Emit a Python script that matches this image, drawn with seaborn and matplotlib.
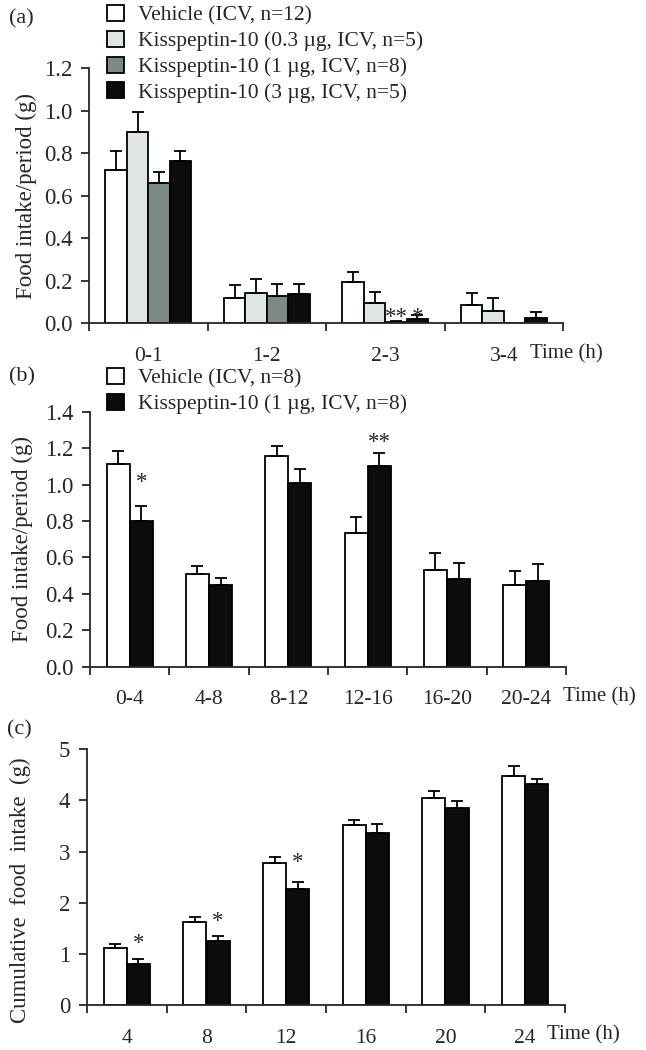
import numpy as np
import pandas as pd
import seaborn as sns
import matplotlib.pyplot as plt
from matplotlib.patches import Patch

sns.set_style("ticks")
plt.rcParams["font.family"] = ["Liberation Serif", "DejaVu Serif"]
plt.rcParams["font.size"] = 15

W, H = 646, 1050

# ---- panel (a): hourly intake, 4 doses ----
times_a = ["0-1", "1-2", "2-3", "3-4"]
groups_a = ["Vehicle (ICV, n=12)", "Kisspeptin-10 (0.3 µg, ICV, n=5)",
            "Kisspeptin-10 (1 µg, ICV, n=8)", "Kisspeptin-10 (3 µg, ICV, n=5)"]
colors_a = ["#ffffff", "#dfe5e3", "#7d8987", "#0b0d0c"]
veh_a = [0.721, 0.119, 0.192, 0.085]
veh_a_err = [0.091, 0.060, 0.050, 0.059]
k03_a = [0.898, 0.143, 0.096, 0.056]
k03_a_err = [0.095, 0.064, 0.049, 0.062]
k1_a = [0.661, 0.130, 0.006, 0.0]
k1_a_err = [0.052, 0.054, 0.006, 0.0]
k3_a = [0.763, 0.137, 0.022, 0.026]
k3_a_err = [0.046, 0.050, 0.018, 0.026]
stars_a = [("2-3", 2, "**", 0.058), ("2-3", 3, "*", 0.058)]

# ---- panel (b): 4-h intake ----
times_b = ["0-4", "4-8", "8-12", "12-16", "16-20", "20-24"]
groups_b = ["Vehicle (ICV, n=8)", "Kisspeptin-10 (1 µg, ICV, n=8)"]
colors_b = ["#ffffff", "#0b0d0c"]
veh_b = [1.111, 0.509, 1.155, 0.736, 0.531, 0.447]
veh_b_err = [0.073, 0.046, 0.059, 0.084, 0.092, 0.080]
kp_b = [0.800, 0.450, 1.011, 1.104, 0.480, 0.471]
kp_b_err = [0.082, 0.035, 0.075, 0.071, 0.089, 0.091]
stars_b = [("0-4", 1, "*", 1.043), ("12-16", 1, "**", 1.263)]

# ---- panel (c): cumulative intake ----
times_c = ["4", "8", "12", "16", "20", "24"]
veh_c = [1.115, 1.623, 2.771, 3.514, 4.042, 4.485]
veh_c_err = [0.071, 0.092, 0.117, 0.104, 0.143, 0.183]
kp_c = [0.808, 1.258, 2.262, 3.364, 3.846, 4.316]
kp_c_err = [0.085, 0.098, 0.137, 0.169, 0.137, 0.104]
stars_c = [("4", 1, "*", 1.317), ("8", 1, "*", 1.760), ("12", 1, "*", 2.914)]


def make_df(times, groups, means, errs):
    rows = []
    for g, m, e in zip(groups, means, errs):
        for t, v, s in zip(times, m, e):
            rows.append({"time": t, "group": g, "mean": v, "sem": s})
    return pd.DataFrame(rows)


def draw_panel(ax, df, times, groups, colors, width, stars, yticks, fmt):
    sns.barplot(data=df, x="time", y="mean", hue="group", order=times,
                hue_order=groups, palette=colors, saturation=1, width=width,
                edgecolor="black", linewidth=1.3, errorbar=None, legend=False,
                ax=ax)
    bar_conts = list(ax.containers[:len(groups)])
    # upper-only error bars on each bar
    for gi, cont in enumerate(bar_conts):
        sub = df[df["group"] == groups[gi]].set_index("time")
        for ti, bar in enumerate(cont):
            err = sub.loc[times[ti], "sem"]
            if err <= 0:
                continue
            xc = bar.get_x() + bar.get_width() / 2
            ax.errorbar(xc, bar.get_height(), yerr=[[0], [err]], fmt="none",
                        ecolor="black", elinewidth=1.3, capsize=4, capthick=1.3)
    # significance stars
    for t, gi, s, yc in stars:
        bar = bar_conts[gi][times.index(t)]
        xc = bar.get_x() + bar.get_width() / 2
        ax.annotate(s, xy=(xc, yc), xytext=(0, -4.5), textcoords="offset points",
                    ha="center", va="center", fontsize=16.5)
    n = len(times)
    ax.set_xlim(-0.5, n - 0.5)
    ax.set_xticks(np.arange(n + 1) - 0.5, labels=[])
    ax.set_xticks(np.arange(n), labels=times, minor=True)
    ax.tick_params(axis="x", which="major", direction="out", length=6, width=1.3)
    ax.tick_params(axis="x", which="minor", length=0, pad=17, labelsize=15.5)
    ax.set_ylim(yticks[0], yticks[-1])
    ax.set_yticks(yticks, labels=[fmt % v for v in yticks])
    ax.tick_params(axis="y", direction="out", length=6, width=1.3, pad=6,
                   labelsize=16.5)
    ax.set_xlabel("")
    for sp in ["left", "bottom"]:
        ax.spines[sp].set_linewidth(1.3)
    sns.despine(ax=ax)


fig = plt.figure(figsize=(W / 100, H / 100), dpi=100)

ax_a = fig.add_axes([89 / W, 1 - 323.3 / H, 474 / W, 255.3 / H])
df_a = make_df(times_a, groups_a, [veh_a, k03_a, k1_a, k3_a],
               [veh_a_err, k03_a_err, k1_a_err, k3_a_err])
draw_panel(ax_a, df_a, times_a, groups_a, colors_a, 0.725, stars_a,
           np.round(np.arange(0, 1.21, 0.2), 1), "%.1f")
ax_a.set_ylabel("Food intake/period (g)", fontsize=16.5)
ax_a.yaxis.set_label_coords(-0.11, 0.5)

ax_b = fig.add_axes([90 / W, 1 - 666.7 / H, 476 / W, 255 / H])
df_b = make_df(times_b, groups_b, [veh_b, kp_b], [veh_b_err, kp_b_err])
draw_panel(ax_b, df_b, times_b, groups_b, colors_b, 0.58, stars_b,
           np.round(np.arange(0, 1.41, 0.2), 1), "%.1f")
ax_b.set_ylabel("Food intake/period (g)", fontsize=16.5)
ax_b.yaxis.set_label_coords(-0.12, 0.5)

ax_c = fig.add_axes([87 / W, 1 - 1005 / H, 478 / W, 255.7 / H])
df_c = make_df(times_c, groups_b, [veh_c, kp_c], [veh_c_err, kp_c_err])
draw_panel(ax_c, df_c, times_c, groups_b, colors_b, 0.58, stars_c,
           np.arange(0, 6), "%d")
ax_c.set_ylabel("Cumulative  food  intake  (g)", fontsize=16.5)
ax_c.yaxis.set_label_coords(-0.117, 0.45)

# legends
h_a = [Patch(facecolor=c, edgecolor="black", linewidth=1.3) for c in colors_a]
fig.legend(h_a, groups_a, loc="upper left", bbox_to_anchor=(107 / W, 1 - 5 / H),
           frameon=False, fontsize=15.5, handlelength=0.78, handleheight=0.78,
           handletextpad=0.65, labelspacing=0.24, borderpad=0, borderaxespad=0)
h_b = [Patch(facecolor=c, edgecolor="black", linewidth=1.3) for c in colors_b]
fig.legend(h_b, groups_b, loc="upper left", bbox_to_anchor=(107 / W, 1 - 368 / H),
           frameon=False, fontsize=15.5, handlelength=0.78, handleheight=0.78,
           handletextpad=0.65, labelspacing=0.24, borderpad=0, borderaxespad=0)

# panel letters and axis titles
for lab, x, y in [("(a)", 9, 19), ("(b)", 9, 377), ("(c)", 7, 730)]:
    fig.text(x / W, 1 - y / H, lab, fontsize=16, va="center", ha="left")
for x, y in [(530, 354), (563, 697), (547, 1035)]:
    fig.text(x / W, 1 - y / H, "Time (h)", fontsize=15, va="center", ha="left")

fig.savefig("out.png", dpi=100)
